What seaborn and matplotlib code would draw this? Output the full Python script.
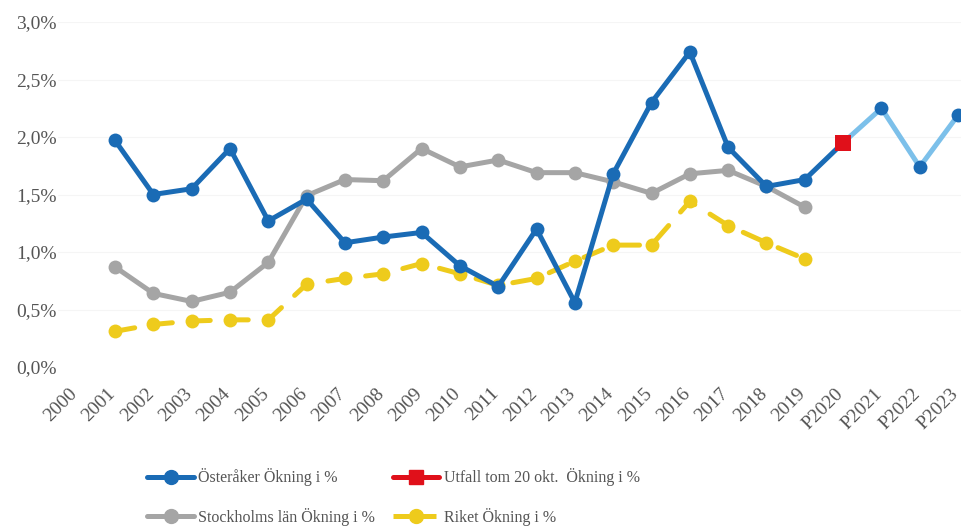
import matplotlib
matplotlib.use("Agg")
import matplotlib.pyplot as plt
import matplotlib.transforms as mtransforms
import seaborn as sns
import pandas as pd
from matplotlib.lines import Line2D
from matplotlib.ticker import FuncFormatter

sns.set_theme(style="white")
plt.rcParams['font.family'] = ['Liberation Serif', 'DejaVu Serif']

categories = ["2000", "2001", "2002", "2003", "2004", "2005", "2006", "2007", "2008",
              "2009", "2010", "2011", "2012", "2013", "2014", "2015", "2016", "2017",
              "2018", "2019", "P2020", "P2021", "P2022", "P2023"]

osteraker_years = ["2001", "2002", "2003", "2004", "2005", "2006", "2007", "2008", "2009",
                   "2010", "2011", "2012", "2013", "2014", "2015", "2016", "2017", "2018",
                   "2019", "P2020"]
osteraker = [1.97, 1.50, 1.55, 1.90, 1.27, 1.46, 1.08, 1.13, 1.17, 0.88, 0.70, 1.20,
             0.56, 1.68, 2.30, 2.74, 1.91, 1.57, 1.63, 1.95]

prognos_years = ["P2020", "P2021", "P2022", "P2023"]
prognos = [1.95, 2.25, 1.74, 2.19]

utfall_years = ["P2020"]
utfall = [1.95]

hist_years = osteraker_years[:-1]
stockholm = [0.87, 0.64, 0.57, 0.65, 0.91, 1.49, 1.63, 1.62, 1.90, 1.74, 1.80, 1.69,
             1.69, 1.61, 1.51, 1.68, 1.71, 1.57, 1.39]
riket = [0.31, 0.37, 0.40, 0.41, 0.41, 0.72, 0.77, 0.81, 0.90, 0.81, 0.71, 0.77,
         0.92, 1.06, 1.06, 1.44, 1.23, 1.08, 0.94]

BLUE = "#1a6bb5"
LIGHTBLUE = "#7cc0ea"
GRAY = "#a5a5a5"
YELLOW = "#eecb1c"
RED = "#e0101a"
TXT = "#555555"

def frame(years, vals):
    return pd.DataFrame({"pos": [categories.index(y) for y in years], "val": vals})

fig = plt.figure(figsize=(9.62, 5.28), dpi=100)
W, H = 962, 528
left_px, right_px, top_px, bot_px = 58, 962, 22, 367
ax = fig.add_axes([left_px / W, 1 - bot_px / H, (right_px - left_px) / W, (bot_px - top_px) / H])

lw = 3.6
ms = 10

for yv in [0.5, 1.0, 1.5, 2.0, 2.5, 3.0]:
    ax.axhline(yv, color="#f5f5f5", lw=0.8, zorder=0)

sns.lineplot(data=frame(hist_years, stockholm), x="pos", y="val", ax=ax, color=GRAY,
             lw=lw, marker="o", markersize=ms, markeredgewidth=0, zorder=3, clip_on=False)
sns.lineplot(data=frame(hist_years, riket), x="pos", y="val", ax=ax, color=YELLOW,
             lw=lw, marker="o", markersize=ms, markeredgewidth=0, zorder=2, clip_on=False)
ax.lines[-1].set_dashes((4, 3.6))
ax.lines[-1].set_dash_capstyle("round")
sns.lineplot(data=frame(prognos_years, prognos), x="pos", y="val", ax=ax, color=LIGHTBLUE,
             lw=lw, zorder=4, clip_on=False)
pf = frame(prognos_years[1:], prognos[1:])
ax.scatter(pf["pos"], pf["val"], s=ms ** 2, color=BLUE, lw=0, zorder=5, clip_on=False)
sns.lineplot(data=frame(osteraker_years, osteraker), x="pos", y="val", ax=ax, color=BLUE,
             lw=lw, marker="o", markersize=ms, markeredgewidth=0, zorder=5, clip_on=False)
uf = frame(utfall_years, utfall)
ax.scatter(uf["pos"], uf["val"], s=11 ** 2, marker="s", color=RED, lw=0, zorder=6, clip_on=False)

step = 38.32
x0 = -(76.7 - left_px) / step
ax.set_xlim(x0, x0 + (right_px - left_px) / step)
ax.set_ylim(0, 3.0)
ax.set_yticks([0, 0.5, 1.0, 1.5, 2.0, 2.5, 3.0])
ax.yaxis.set_major_formatter(FuncFormatter(lambda v, p: f"{v:.1f}".replace(".", ",") + "%"))
ax.set_xticks(range(len(categories)))
ax.set_xticklabels(categories, rotation=45, ha="right", rotation_mode="anchor")
ax.tick_params(axis="both", length=0, labelsize=14, colors=TXT)
ax.tick_params(axis="x", pad=10)
ax.tick_params(axis="y", pad=1)
offset = mtransforms.ScaledTranslation(-8 / 100, -4 / 100, fig.dpi_scale_trans)
for lab in ax.get_xticklabels():
    lab.set_transform(lab.get_transform() + offset)
ax.set_xlabel("")
ax.set_ylabel("")
for s in ax.spines.values():
    s.set_visible(False)

handles = [
    Line2D([], [], color=BLUE, lw=lw, marker="o", markersize=ms),
    Line2D([], [], color=GRAY, lw=lw, marker="o", markersize=ms),
    Line2D([], [], color=RED, lw=lw, marker="s", markersize=ms),
    Line2D([], [], color=YELLOW, lw=lw, marker="o", markersize=ms, dashes=(3.2, 2.2)),
]
labels = ["Österåker Ökning i %", "Stockholms län Ökning i %",
          "Utfall tom 20 okt.  Ökning i %", "Riket Ökning i %"]
fig.legend(handles, labels, ncol=2, loc="center left", bbox_to_anchor=(133 / W, 1 - 497 / H),
           frameon=False, fontsize=11.5, labelcolor=TXT, handlelength=2.9, handletextpad=0.3,
           columnspacing=1.1, labelspacing=1.35)

fig.savefig("out.png", dpi=100)
